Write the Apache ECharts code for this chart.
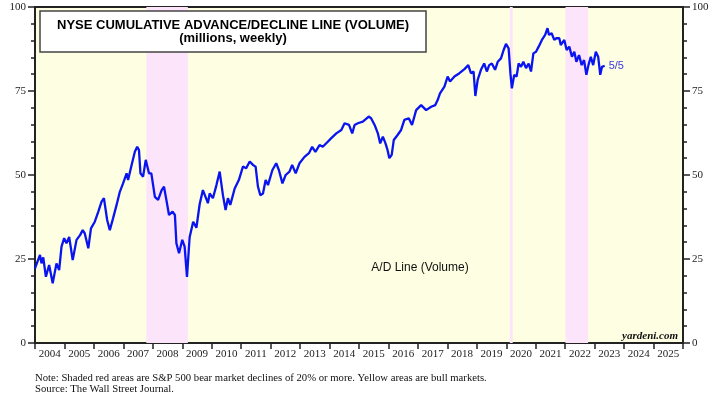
<!DOCTYPE html>
<html>
<head>
<meta charset="utf-8">
<script src="https://cdn.jsdelivr.net/npm/echarts@6/dist/echarts.min.js"></script>
<style>html,body{margin:0;padding:0;background:#fff}#c{width:722px;height:398px}</style>
</head>
<body>
<div id="c"></div>
<script>
// Year categories shown along the bottom axis
const yearLabels = ['2004','2005','2006','2007','2008','2009','2010','2011','2012','2013','2014','2015','2016','2017','2018','2019','2020','2021','2022','2023','2024','2025'];
const dates = [2004.00,2004.17,2004.22,2004.28,2004.37,2004.48,2004.60,2004.73,2004.82,2004.90,2004.99,2005.07,2005.16,2005.28,2005.41,2005.53,2005.62,2005.69,2005.81,2005.90,
2006.03,2006.15,2006.26,2006.34,2006.45,2006.54,2006.65,2006.77,2006.88,2006.99,2007.11,2007.16,2007.28,2007.39,2007.47,2007.53,2007.58,2007.67,2007.76,2007.87,2007.95,
2008.07,2008.18,2008.30,2008.38,2008.46,2008.55,2008.67,2008.75,2008.80,2008.89,2009.00,2009.08,2009.16,2009.25,2009.37,2009.48,2009.59,2009.70,2009.79,2009.87,2009.93,
2010.04,2010.16,2010.27,2010.33,2010.38,2010.47,2010.55,2010.63,2010.78,2010.92,2011.06,2011.17,2011.29,2011.40,2011.49,2011.57,2011.65,2011.74,2011.83,2011.91,
2012.06,2012.19,2012.28,2012.40,2012.51,2012.64,2012.73,2012.85,2012.98,2013.15,2013.30,2013.41,2013.52,2013.66,2013.77,2013.94,2014.05,2014.23,2014.40,2014.51,2014.66,2014.77,2014.85,2014.96,
2015.13,2015.33,2015.41,2015.53,2015.64,2015.72,2015.81,2015.90,2015.97,2016.03,2016.11,2016.18,2016.31,2016.43,2016.54,2016.69,2016.80,2016.94,
2017.11,2017.28,2017.45,2017.59,2017.67,2017.75,2017.90,2018.01,2018.09,2018.24,2018.41,2018.58,2018.71,2018.80,2018.89,2018.95,
2019.03,2019.14,2019.25,2019.34,2019.42,2019.51,2019.62,2019.71,2019.82,2019.91,2019.99,2020.08,2020.14,2020.19,2020.27,2020.35,2020.42,2020.50,2020.58,2020.67,2020.76,2020.84,2020.92,
2021.01,2021.10,2021.21,2021.32,2021.40,2021.45,2021.54,2021.63,2021.70,2021.80,2021.85,2021.97,2022.05,2022.14,2022.23,2022.31,2022.38,2022.47,2022.56,2022.64,2022.72,2022.79,2022.87,2022.95,
2023.04,2023.12,2023.19,2023.25,2023.34];
// A/D line values (millions)
const adValues = [22.2,26.2,23.7,25.5,19.7,23.2,17.8,23.7,21.7,28.7,31.2,29.7,31.6,24.7,30.7,32.1,33.6,32.6,28.2,34.1,
36.1,39.1,42.1,43.1,36.6,33.6,37.1,41.1,45.0,47.5,50.5,48.5,53.0,56.9,58.4,57.4,50.5,49.5,54.5,50.5,50.5,
43.5,42.6,45.5,46.5,42.6,38.1,39.1,38.1,29.7,26.7,30.7,28.7,19.7,31.5,36.1,34.3,41.3,45.5,43.5,41.6,44.5,
43.1,47.0,51.0,51.5,44.0,39.6,43.1,41.1,46.0,48.5,52.5,52.0,54.0,53.0,52.5,46.5,44.0,44.5,48.5,47.0,
51.5,53.5,51.5,47.5,50.0,51.0,53.0,50.5,53.5,55.4,56.5,58.4,56.9,58.9,58.4,59.9,60.9,62.4,63.4,65.4,64.9,62.4,64.9,65.4,
65.9,67.4,66.9,64.9,62.4,59.4,61.4,59.4,57.4,55.0,56.0,60.4,61.9,63.4,66.4,66.9,64.9,69.3,
70.8,69.3,70.3,70.8,72.3,74.3,76.3,79.3,77.8,79.3,80.3,81.5,82.7,80.3,80.8,73.5,
78.3,81.3,83.2,80.8,82.7,83.2,81.3,83.7,84.7,87.2,89.0,87.7,80.3,75.8,79.8,79.3,83.2,82.2,83.7,81.8,83.2,80.8,86.2,
86.7,88.2,90.2,91.7,93.7,91.7,92.2,90.2,90.7,90.7,88.7,90.2,87.2,88.2,85.2,86.7,83.7,85.7,82.7,84.2,79.8,82.7,85.2,82.7,
86.7,85.2,79.8,82.2,82.5];
// Bear market periods (decimal years)
const bearStarts = [2007.78, 2020.12, 2022.01];
const bearEnds   = [2009.19, 2020.22, 2022.78];
const yTicks = [0, 25, 50, 75, 100];

const serif = 'Liberation Serif';
const sans = 'Liberation Sans';
const chart = echarts.init(document.getElementById('c'), null, {renderer: 'canvas'});
const lineData = dates.map((d, i) => [d, adValues[i]]);
const bearAreas = bearStarts.map((s, i) => [{xAxis: s}, {xAxis: bearEnds[i]}]);

const yAxisCommon = {
  type: 'value', min: yTicks[0], max: yTicks[yTicks.length - 1], interval: 25,
  axisLine: {show: true, lineStyle: {color: '#222', width: 2}},
  axisTick: {show: true, length: 7, lineStyle: {color: '#222', width: 1.5}},
  minorTick: {show: true, splitNumber: 5, length: 4, lineStyle: {color: '#222', width: 1.5}},
  axisLabel: {fontFamily: serif, fontSize: 11, color: '#222', margin: 9},
  splitLine: {show: false}
};

chart.setOption({
  animation: false,
  grid: {left: 35, right: 39, top: 7, bottom: 55, show: true, backgroundColor: '#FEFEE2', borderColor: '#222', borderWidth: 2},
  xAxis: [
    {type: 'category', data: yearLabels, boundaryGap: true, position: 'bottom',
     axisLine: {show: true, lineStyle: {color: '#222', width: 2}},
     axisTick: {show: true, length: 6, interval: 0, lineStyle: {color: '#222', width: 1.5}},
     axisLabel: {fontFamily: serif, fontSize: 11, color: '#222', margin: 6, interval: 0},
     splitLine: {show: false}},
    {type: 'value', min: 2004, max: 2026, show: false}
  ],
  yAxis: [
    Object.assign({}, yAxisCommon, {position: 'left'}),
    Object.assign({}, yAxisCommon, {position: 'right'})
  ],
  series: [{
    type: 'line', xAxisIndex: 1, yAxisIndex: 0, data: lineData, showSymbol: false,
    lineStyle: {color: '#0A14F0', width: 2.3}, z: 5,
    endLabel: {show: true, formatter: '5/5', color: '#3a3adf', fontFamily: sans, fontSize: 11, distance: 4},
    markArea: {silent: true, itemStyle: {color: '#FCE4FA'}, data: bearAreas}
  }],
  graphic: [
    {type: 'rect', shape: {x: 40, y: 11, width: 386, height: 41}, style: {fill: '#fff', stroke: '#444', lineWidth: 1.5}, z: 10},
    {type: 'text', x: 233, y: 25, style: {text: 'NYSE CUMULATIVE ADVANCE/DECLINE LINE (VOLUME)', font: 'bold 13px ' + sans, fill: '#000', align: 'center', verticalAlign: 'middle'}, z: 11},
    {type: 'text', x: 233, y: 38, style: {text: '(millions, weekly)', font: 'bold 13px ' + sans, fill: '#000', align: 'center', verticalAlign: 'middle'}, z: 11},
    {type: 'text', x: 420, y: 268, style: {text: 'A/D Line (Volume)', font: '12px ' + sans, fill: '#111', align: 'center', verticalAlign: 'middle'}, z: 11},
    {type: 'text', x: 678, y: 336, style: {text: 'yardeni.com', font: 'italic bold 11px ' + serif, fill: '#111', align: 'right', verticalAlign: 'middle'}, z: 11},
    {type: 'text', x: 35, y: 378, style: {text: 'Note: Shaded red areas are S&P 500 bear market declines of 20% or more. Yellow areas are bull markets.', font: '10.7px ' + serif, fill: '#111', align: 'left', verticalAlign: 'middle'}, z: 11},
    {type: 'text', x: 35, y: 389, style: {text: 'Source: The Wall Street Journal.', font: '10.7px ' + serif, fill: '#111', align: 'left', verticalAlign: 'middle'}, z: 11}
  ]
});
</script>
</body>
</html>
